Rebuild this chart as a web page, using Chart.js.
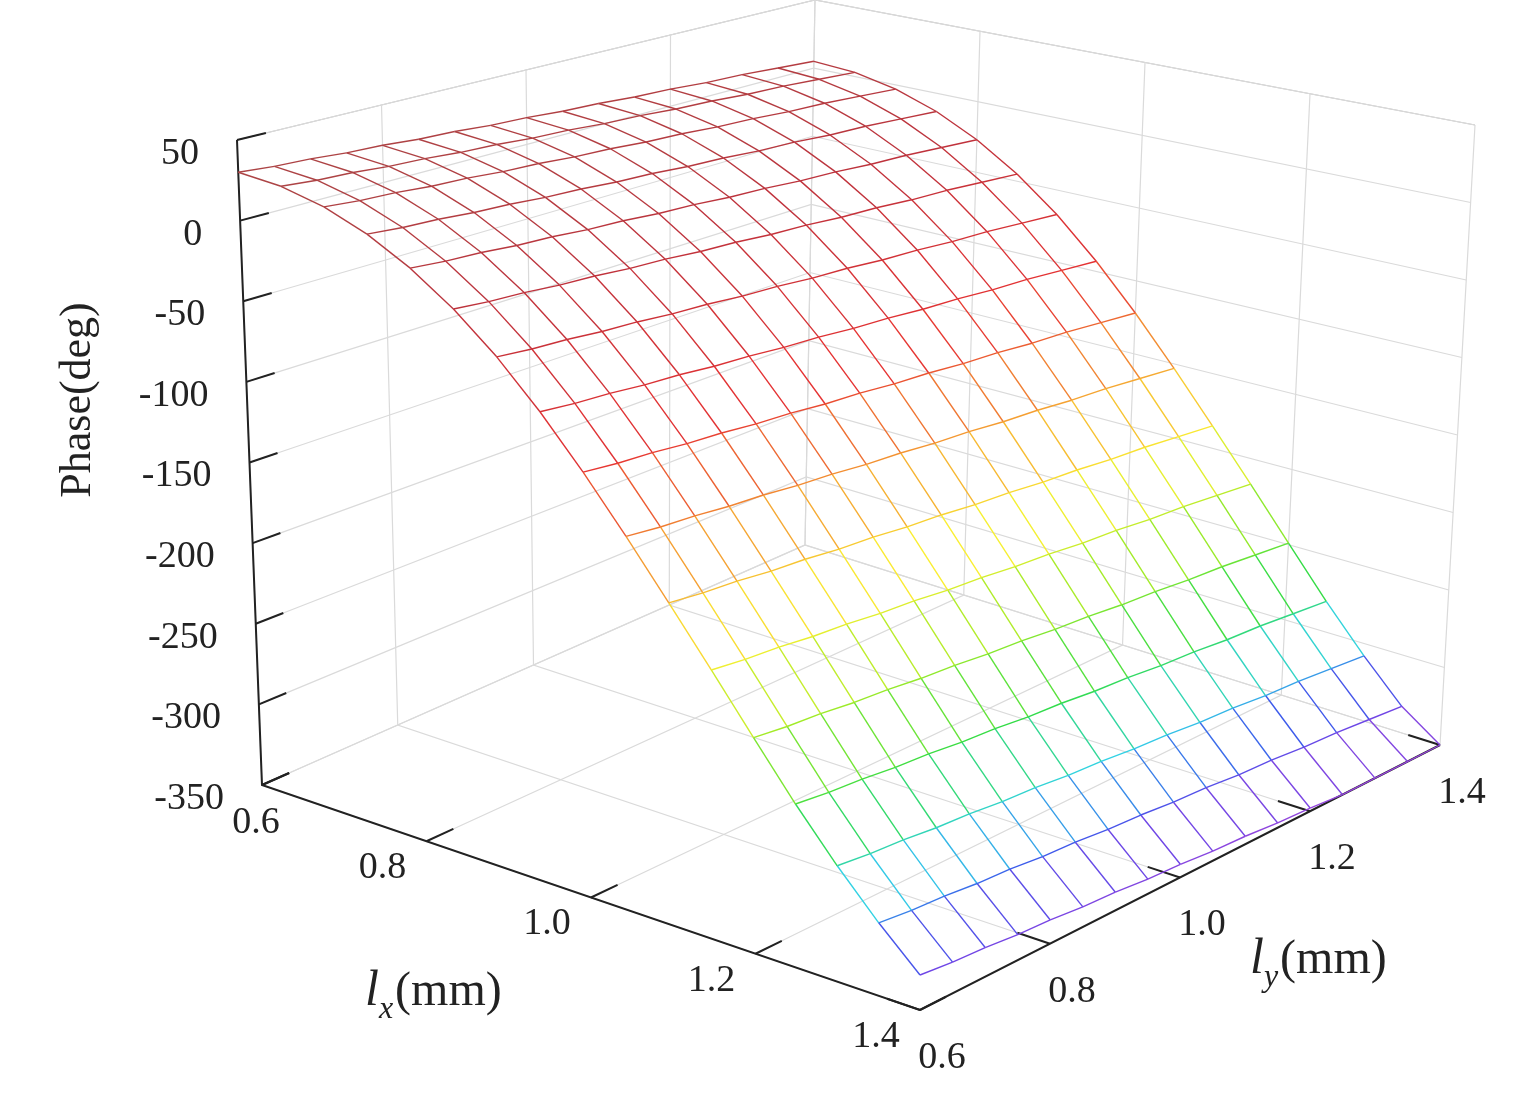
<!DOCTYPE html>
<html>
<head>
<meta charset="utf-8">
<script src="https://cdn.jsdelivr.net/npm/chart.js@4.4.0/dist/chart.umd.min.js"></script>
<style>
  html, body { margin: 0; padding: 0; background: #fff; }
  #wrap { width: 1534px; height: 1103px; position: relative; }
</style>
</head>
<body>
<div id="wrap"><canvas id="myChart"></canvas></div>
<script>
// grid of the surface
const lxValues = [0.6,0.65,0.7,0.75,0.8,0.85,0.9,0.95,1.0,1.05,1.1,1.15,1.2,1.25,1.3,1.35,1.4];
const lyValues = [0.6,0.65,0.7,0.75,0.8,0.85,0.9,0.95,1.0,1.05,1.1,1.15,1.2,1.25,1.3,1.35,1.4];
// phase (deg), one row per lx, one column per ly
const phase = [
  [30,28,27,25,24,22,21,19,18,16,15,13,12,10,9,7,5],
  [28,26,25,23,22,20,19,17,16,14,13,11,10,8,7,5,3],
  [22,20,19,17,16,14,13,11,10,8,7,5,4,2,1,-1,-3],
  [12,10,9,7,6,4,3,1,0,-2,-3,-5,-6,-8,-9,-11,-13],
  [-2,-4,-5,-7,-8,-10,-11,-13,-14,-16,-17,-19,-20,-22,-23,-25,-27],
  [-20,-22,-23,-25,-26,-28,-29,-31,-32,-34,-35,-37,-38,-40,-41,-43,-45],
  [-42,-44,-45,-47,-48,-50,-51,-53,-54,-56,-57,-59,-60,-62,-63,-65,-67],
  [-68,-70,-71,-73,-74,-76,-77,-79,-80,-82,-83,-85,-86,-88,-89,-91,-93],
  [-97,-99,-100,-102,-103,-105,-106,-108,-109,-111,-112,-114,-115,-117,-118,-120,-122],
  [-128,-130,-131,-133,-134,-136,-137,-139,-140,-142,-143,-145,-146,-148,-149,-151,-153],
  [-160,-162,-163,-165,-166,-168,-169,-171,-172,-174,-175,-177,-178,-180,-181,-183,-185],
  [-192,-194,-195,-197,-198,-200,-201,-203,-204,-206,-207,-209,-210,-212,-213,-215,-217],
  [-224,-226,-227,-229,-230,-232,-233,-235,-236,-238,-239,-241,-242,-244,-245,-247,-249],
  [-255,-257,-258,-260,-261,-263,-264,-266,-267,-269,-270,-272,-273,-275,-276,-278,-280],
  [-283,-285,-286,-288,-289,-291,-292,-294,-295,-297,-298,-300,-301,-303,-304,-306,-308],
  [-308,-310,-311,-313,-314,-316,-317,-319,-320,-322,-323,-325,-326,-328,-329,-331,-333],
  [-330,-332,-333,-335,-336,-338,-339,-341,-342,-344,-345,-347,-348,-350,-350,-350,-350]
];
const zTicks = [50,0,-50,-100,-150,-200,-250,-300,-350];
const lxTicks = [0.6,0.8,1.0,1.2,1.4];
const lyTicks = [0.6,0.8,1.0,1.2,1.4];

// simple projection of the box (floor corners + vertical scale per corner)
const Z0 = -350, Z1 = 50;
const corners = {
  A: { x: 262, y: 785, h: 645, dx: -25 },   // lx .6, ly .6
  B: { x: 920, y: 1010, h: 700, dx: 0 },    // lx 1.4, ly .6
  C: { x: 1440, y: 745, h: 620, dx: 35 },   // lx 1.4, ly 1.4
  D: { x: 805, y: 545, h: 545, dx: 10 }     // lx .6, ly 1.4
};
function bil(k, u, v) {
  const { A, B, C, D } = corners;
  return A[k]*(1-u)*(1-v) + B[k]*u*(1-v) + C[k]*u*v + D[k]*(1-u)*v;
}
function proj(lx, ly, z) {
  const u = (lx - 0.6) / 0.8, v = (ly - 0.6) / 0.8;
  const t = (z - Z0) / (Z1 - Z0);
  return { x: bil('x', u, v) + bil('dx', u, v) * t, y: bil('y', u, v) - bil('h', u, v) * t, z: z };
}

const stops = [
  [0.00, [150, 70, 220]], [0.05, [110, 70, 230]], [0.09, [60, 90, 235]], [0.14, [50, 210, 230]],
  [0.22, [50, 220, 70]], [0.32, [160, 235, 40]], [0.42, [250, 240, 50]],
  [0.53, [245, 160, 50]], [0.66, [230, 50, 50]], [0.85, [190, 50, 60]], [1.00, [170, 70, 70]]
];
function colorFor(z) {
  const t = Math.max(0, Math.min(1, (z + 350) / 385));
  for (let i = 1; i < stops.length; i++) {
    if (t <= stops[i][0]) {
      const [t0, c0] = stops[i-1], [t1, c1] = stops[i];
      const f = (t - t0) / (t1 - t0);
      const c = c0.map((a, k) => Math.round(a + (c1[k] - a) * f));
      return `rgb(${c[0]},${c[1]},${c[2]})`;
    }
  }
  return 'rgb(170,70,70)';
}

const datasets = [];
const gray = '#dadada';
function line(pts, color, width, order) {
  datasets.push({ data: pts, showLine: true, pointRadius: 0, borderColor: color,
    borderWidth: width, order: order, tension: 0 });
}
// back walls and floor grid
zTicks.forEach(z => {
  line([proj(0.6, 0.6, z), proj(0.6, 1.4, z), proj(1.4, 1.4, z)], gray, 1.2, 3);
});
lxTicks.forEach(lx => {
  line([proj(lx, 0.6, Z0), proj(lx, 1.4, Z0), proj(lx, 1.4, Z1)], gray, 1.2, 3);
});
lyTicks.forEach(ly => {
  line([proj(1.4, ly, Z0), proj(0.6, ly, Z0), proj(0.6, ly, Z1)], gray, 1.2, 3);
});
// box edges
line([proj(0.6, 0.6, Z1), proj(0.6, 1.4, Z1), proj(1.4, 1.4, Z1)], '#c4c4c4', 1.2, 3);
line([proj(0.6, 0.6, Z1), proj(0.6, 0.6, Z0), proj(1.4, 0.6, Z0), proj(1.4, 1.4, Z0)], '#222', 2, 2);
// tick marks (pointing into the box)
zTicks.forEach(z => line([proj(0.6, 0.6, z), proj(0.6, 0.64, z)], '#222', 2, 2));
lxTicks.forEach(lx => line([proj(lx, 0.6, Z0), proj(lx, 0.64, Z0)], '#222', 2, 2));
lyTicks.forEach(ly => line([proj(1.4, ly, Z0), proj(1.36, ly, Z0)], '#222', 2, 2));

// surface wireframe
const segColor = ctx => colorFor((ctx.p0.raw.z + ctx.p1.raw.z) / 2);
function surf(pts) {
  datasets.push({ data: pts, showLine: true, pointRadius: 0, borderWidth: 1.4,
    borderColor: '#c00', segment: { borderColor: segColor }, order: 1, tension: 0 });
}
lxValues.forEach((lx, i) => surf(lyValues.map((ly, j) => proj(lx, ly, phase[i][j]))));
lyValues.forEach((ly, j) => surf(lxValues.map((lx, i) => proj(lx, ly, phase[i][j]))));

const labelsPlugin = {
  id: 'labels',
  afterDraw(chart) {
    const c = chart.ctx, xs = chart.scales.x, ys = chart.scales.y;
    const P = p => [xs.getPixelForValue(p.x), ys.getPixelForValue(p.y)];
    c.save();
    c.fillStyle = '#222';
    c.font = '38px "Liberation Serif"';
    c.textBaseline = 'middle';
    c.textAlign = 'right';
    zTicks.forEach(z => { const [x, y] = P(proj(0.6, 0.6, z)); c.fillText(String(z), x - 38, y + 14); });
    c.textAlign = 'center';
    lxTicks.forEach((lx, i) => {
      const [x, y] = P(proj(lx, 0.6, Z0));
      c.fillText(lx.toFixed(1), x - (i === 0 ? 6 : 44), y + (i === 0 ? 38 : 27));
    });
    lyTicks.forEach(ly => { const [x, y] = P(proj(1.4, ly, Z0)); c.fillText(ly.toFixed(1), x + 22, y + 48); });
    // axis titles
    c.font = '44px "Liberation Serif"';
    c.save();
    c.translate(78, 400);
    c.rotate(-Math.PI / 2);
    c.textAlign = 'center';
    c.fillText('Phase(deg)', 0, 0);
    c.restore();
    const title = (x, y, sub) => {
      c.textAlign = 'left';
      c.font = 'italic 50px "Liberation Serif"';
      c.fillText('l', x, y);
      let w = c.measureText('l').width;
      c.font = 'italic 32px "Liberation Serif"';
      c.fillText(sub, x + w, y + 18);
      w += c.measureText(sub).width + 2;
      c.font = '48px "Liberation Serif"';
      c.fillText('(mm)', x + w, y);
    };
    title(365, 992, 'x');
    title(1250, 960, 'y');
    c.restore();
  }
};

new Chart(document.getElementById('myChart').getContext('2d'), {
  type: 'scatter',
  data: { datasets },
  options: {
    responsive: true,
    maintainAspectRatio: false,
    animation: false,
    layout: { padding: 0 },
    plugins: { legend: { display: false }, tooltip: { enabled: false } },
    scales: {
      x: { type: 'linear', min: 0, max: 1534, display: false },
      y: { type: 'linear', min: 0, max: 1103, reverse: true, display: false }
    }
  },
  plugins: [labelsPlugin]
});
</script>
</body>
</html>
